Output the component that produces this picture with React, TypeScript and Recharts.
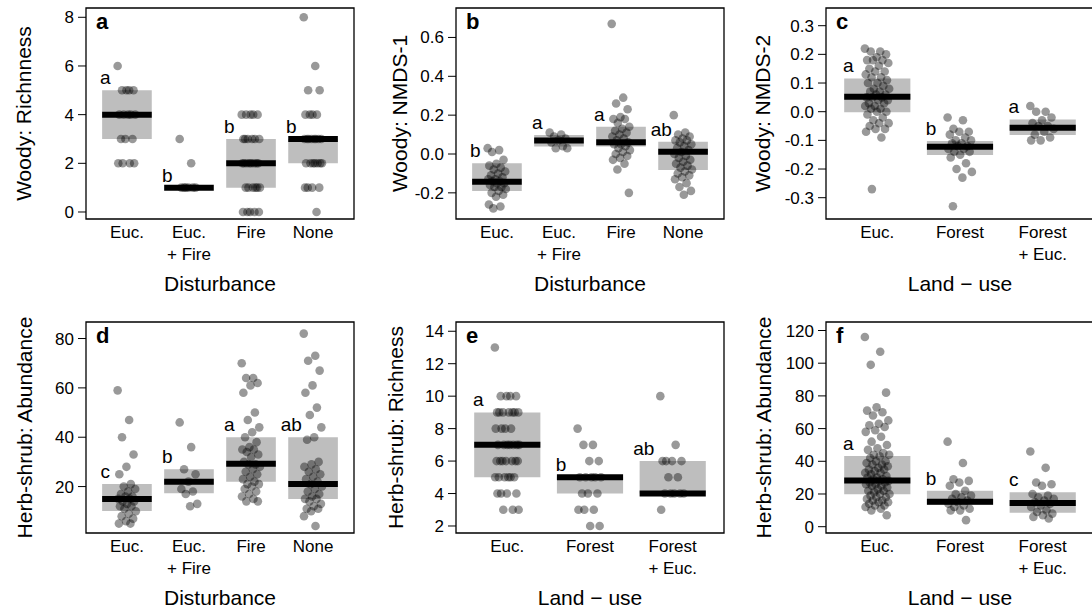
import React from "react";
import {
  ComposedChart,
  Scatter,
  XAxis,
  YAxis,
  ReferenceArea,
  ReferenceLine,
  ReferenceDot,
} from "recharts";

// ---- data ----

const disturbanceCats = ["Euc.", "Euc.\n+ Fire", "Fire", "None"];
const landUseCats = ["Euc.", "Forest", "Forest\n+ Euc."];

// a: Woody richness by disturbance
const aEuc = [6, 5, 5, 5, 5, 4, 4, 4, 4, 4, 3, 3, 3, 2, 2, 2, 2];
const aEucFire = [3, 2, 1, 1, 1, 1, 1, 1];
const aFire = [4, 4, 4, 4, 4, 3, 3, 3, 3, 3, 3, 2, 2, 2, 2, 2, 2, 2, 2, 1, 1, 1, 1, 1, 1, 0, 0, 0, 0, 0];
const aNone = [8, 6, 5, 5, 4, 4, 4, 4, 3, 3, 3, 3, 3, 3, 3, 3, 2, 2, 2, 2, 2, 2, 2, 1, 1, 1, 1, 0];
const aQ1 = [3, 1, 1, 2];
const aMed = [4, 1, 2, 3];
const aQ3 = [5, 1, 3, 3];
const aLetters = ["a", "b", "b", "b"];
const aTicks = [0, 2, 4, 6, 8];

// b: Woody NMDS-1 by disturbance
const bEuc = [0.03, 0.02, 0.01, -0.03, -0.05, -0.06, -0.07, -0.08, -0.09, -0.1, -0.11, -0.12, -0.13, -0.13, -0.14, -0.14, -0.15, -0.15, -0.16, -0.17, -0.17, -0.18, -0.19, -0.2, -0.21, -0.22, -0.26, -0.27, -0.28];
const bEucFire = [0.11, 0.1, 0.09, 0.08, 0.07, 0.06, 0.04, 0.03, 0.03];
const bFire = [0.67, 0.29, 0.26, 0.23, 0.19, 0.18, 0.18, 0.16, 0.14, 0.13, 0.12, 0.11, 0.1, 0.09, 0.08, 0.07, 0.06, 0.05, 0.05, 0.04, 0.03, 0.02, 0.01, 0.0, -0.01, -0.02, -0.03, -0.05, -0.08, -0.2];
const bNone = [0.2, 0.11, 0.1, 0.09, 0.08, 0.07, 0.07, 0.06, 0.05, 0.04, 0.03, 0.02, 0.01, 0.0, -0.01, -0.02, -0.03, -0.04, -0.05, -0.06, -0.07, -0.08, -0.09, -0.1, -0.11, -0.12, -0.13, -0.15, -0.17, -0.19, -0.21];
const bQ1 = [-0.19, 0.038, 0.038, -0.082];
const bMed = [-0.143, 0.07, 0.06, 0.012];
const bQ3 = [-0.048, 0.098, 0.14, 0.063];
const bLetters = ["b", "a", "a", "ab"];
const bTicks = [-0.2, 0, 0.2, 0.4, 0.6];

// c: Woody NMDS-2 by land-use
const cEuc = [0.22, 0.21, 0.21, 0.2, 0.19, 0.18, 0.18, 0.18, 0.17, 0.16, 0.15, 0.14, 0.14, 0.13, 0.12, 0.12, 0.11, 0.1, 0.1, 0.09, 0.08, 0.08, 0.07, 0.07, 0.06, 0.06, 0.05, 0.05, 0.05, 0.04, 0.04, 0.03, 0.03, 0.02, 0.02, 0.01, 0.01, 0.0, 0.0, -0.01, -0.02, -0.03, -0.04, -0.04, -0.05, -0.06, -0.06, -0.07, -0.09, -0.27];
const cForest = [-0.02, -0.03, -0.06, -0.07, -0.07, -0.08, -0.09, -0.1, -0.1, -0.11, -0.11, -0.12, -0.12, -0.13, -0.13, -0.14, -0.14, -0.15, -0.16, -0.18, -0.2, -0.21, -0.23, -0.33];
const cForestEuc = [0.02, 0.0, 0.0, -0.02, -0.03, -0.04, -0.05, -0.05, -0.06, -0.07, -0.08, -0.09, -0.1, -0.1];
const cQ1 = [-0.002, -0.151, -0.081];
const cMed = [0.052, -0.122, -0.056];
const cQ3 = [0.116, -0.102, -0.027];
const cLetters = ["a", "b", "a"];
const cTicks = [-0.3, -0.2, -0.1, 0, 0.1, 0.2, 0.3];

// d: Herb-shrub abundance by disturbance
const dEuc = [59, 47, 40, 33, 28, 25, 21, 20, 19, 18, 17, 16, 16, 15, 15, 14, 14, 13, 12, 12, 11, 10, 9, 8, 7, 6, 5, 5];
const dEucFire = [46, 36, 27, 25, 22, 19, 18, 17, 13, 12];
const dFire = [70, 64, 64, 62, 61, 58, 50, 47, 44, 42, 40, 38, 36, 35, 35, 34, 33, 32, 30, 29, 29, 28, 27, 26, 25, 24, 23, 22, 21, 21, 20, 19, 18, 17, 16, 15, 14, 14];
const dNone = [82, 73, 71, 67, 61, 58, 52, 49, 44, 40, 39, 30, 29, 28, 27, 26, 25, 24, 23, 22, 21, 20, 19, 18, 17, 16, 15, 15, 14, 13, 12, 11, 11, 10, 8, 4];
const dQ1 = [10.1, 17.3, 22, 15];
const dMed = [15, 22, 29.2, 21];
const dQ3 = [21, 27, 40, 40];
const dLetters = ["c", "b", "a", "ab"];
const dTicks = [20, 40, 60, 80];

// e: Herb-shrub richness by land-use
const eEuc = [13, 10, 10, 10, 10, 9, 9, 9, 9, 9, 9, 9, 8, 8, 8, 8, 7, 7, 7, 7, 7, 7, 7, 6, 6, 6, 6, 6, 6, 6, 5, 5, 5, 5, 5, 5, 4, 4, 4, 4, 3, 3, 3];
const eForest = [8, 7, 7, 6, 6, 5, 5, 5, 5, 5, 4, 4, 4, 3, 3, 3, 2, 2];
const eForestEuc = [10, 7, 6, 6, 6, 6, 5, 5, 4, 4, 4, 4, 4, 3];
const eQ1 = [5, 4, 4];
const eMed = [7, 5, 4];
const eQ3 = [9, 5, 6];
const eLetters = ["a", "b", "ab"];
const eTicks = [2, 4, 6, 8, 10, 12, 14];

// f: Herb-shrub abundance by land-use
const fEuc = [116, 107, 99, 82, 73, 71, 70, 68, 65, 63, 62, 61, 59, 58, 55, 52, 50, 48, 47, 45, 44, 44, 43, 42, 40, 40, 39, 38, 38, 37, 36, 35, 35, 34, 33, 33, 32, 31, 30, 30, 29, 29, 28, 28, 27, 27, 26, 26, 25, 25, 24, 23, 22, 22, 21, 20, 20, 19, 18, 18, 17, 16, 16, 15, 15, 14, 13, 13, 12, 11, 10, 7];
const fForest = [52, 39, 29, 28, 27, 25, 22, 20, 19, 18, 17, 16, 15, 14, 13, 12, 11, 10, 10, 4];
const fForestEuc = [46, 36, 27, 26, 25, 20, 19, 18, 17, 16, 15, 14, 13, 12, 10, 9, 8, 7, 6, 5];
const fQ1 = [19.9, 13.3, 8.6];
const fMed = [28.2, 15.2, 14.5];
const fQ3 = [43.3, 22, 21];
const fLetters = ["a", "b", "c"];
const fTicks = [0, 20, 40, 60, 80, 100, 120];

// ---- layout ----

const FONT = '"Liberation Sans", Arial, Helvetica, sans-serif';
const CHART_W = 364;
const CHART_H = 296;
const MARGIN = { top: 8, right: 10, bottom: 0, left: 26 };

const panels = [
  { tag: "a", left: 0, top: 0, cats: disturbanceCats, groups: [aEuc, aEucFire, aFire, aNone], q1: aQ1, med: aMed, q3: aQ3, letters: aLetters, ticks: aTicks, yDomain: [-0.288, 8.382], digits: 0, yTitle: "Woody: Richnness", xTitle: "Disturbance", titleOff: 63 },
  { tag: "b", left: 370, top: 0, cats: disturbanceCats, groups: [bEuc, bEucFire, bFire, bNone], q1: bQ1, med: bMed, q3: bQ3, letters: bLetters, ticks: bTicks, yDomain: [-0.3346, 0.7516], digits: 1, yTitle: "Woody: NMDS-1", xTitle: "Disturbance", titleOff: 57 },
  { tag: "c", left: 740, top: 0, cats: landUseCats, groups: [cEuc, cForest, cForestEuc], q1: cQ1, med: cMed, q3: cQ3, letters: cLetters, ticks: cTicks, yDomain: [-0.3743, 0.3617], digits: 1, yTitle: "Woody: NMDS-2", xTitle: "Land \u2212 use", titleOff: 64 },
  { tag: "d", left: 0, top: 314, cats: disturbanceCats, groups: [dEuc, dEucFire, dFire, dNone], q1: dQ1, med: dMed, q3: dQ3, letters: dLetters, ticks: dTicks, yDomain: [1.18, 86.7], digits: 0, yTitle: "Herb-shrub: Abundance", xTitle: "Disturbance", titleOff: 62 },
  { tag: "e", left: 370, top: 314, cats: landUseCats, groups: [eEuc, eForest, eForestEuc], q1: eQ1, med: eMed, q3: eQ3, letters: eLetters, ticks: eTicks, yDomain: [1.568, 14.57], digits: 0, yTitle: "Herb-shrub: Richness", xTitle: "Land \u2212 use", titleOff: 61 },
  { tag: "f", left: 740, top: 314, cats: landUseCats, groups: [fEuc, fForest, fForestEuc], q1: fQ1, med: fMed, q3: fQ3, letters: fLetters, ticks: fTicks, yDomain: [-3.86, 125.2], digits: 0, yTitle: "Herb-shrub: Abundance", xTitle: "Land \u2212 use", titleOff: 63 },
];

// horizontal spread of the dots, like R's jitter() but repeatable
const jitter = (k: number) => (((k * 0.618034) % 1) - 0.5) * 0.3;

const Dot = (p: any) => <circle cx={p.cx} cy={p.cy} r={4.3} fill="#000" fillOpacity={0.4} />;

function CatTick(props: any) {
  const { x, y, payload, cats } = props;
  const lines: string[] = (cats[payload.value - 1] || "").split("\n");
  return (
    <text x={x} y={y} textAnchor="middle" fontSize={17} fill="#000" fontFamily={FONT}>
      {lines.map((l, i) => (
        <tspan key={i} x={x} dy={i === 0 ? 19 : 22}>
          {l}
        </tspan>
      ))}
    </text>
  );
}

function Panel({ cfg }: { cfg: any }) {
  const n = cfg.cats.length;
  const xDomain = [0.5 - 0.04 * n, n + 0.5 + 0.04 * n];
  const points = cfg.groups.flatMap((vals: number[], gi: number) =>
    vals.map((v, k) => ({ x: gi + 1 + jitter(k), y: v }))
  );
  const xTicks = cfg.cats.map((_: string, i: number) => i + 1);

  return (
    <div style={{ position: "absolute", left: cfg.left, top: cfg.top }}>
      <ComposedChart width={CHART_W} height={CHART_H} margin={MARGIN}>
        <XAxis
          type="number"
          dataKey="x"
          domain={xDomain}
          ticks={xTicks}
          interval={0}
          allowDataOverflow
          axisLine={false}
          tickLine={false}
          tickSize={0}
          tickMargin={0}
          height={77}
          tick={<CatTick cats={cfg.cats} />}
          label={{
            content: (lp: any) => {
              const vb = lp.viewBox;
              return (
                <text x={vb.x + vb.width / 2} y={vb.y + 72} textAnchor="middle" fontSize={21} fill="#000" fontFamily={FONT}>
                  {cfg.xTitle}
                </text>
              );
            },
          }}
        />
        <YAxis
          type="number"
          dataKey="y"
          domain={cfg.yDomain}
          ticks={cfg.ticks}
          interval={0}
          allowDataOverflow
          width={60}
          axisLine={false}
          tickSize={8}
          tickMargin={4}
          tickLine={{ stroke: "#000" }}
          tick={{ fontSize: 17, fill: "#000", fontFamily: FONT }}
          tickFormatter={(v: number) => v.toFixed(cfg.digits)}
          label={{
            content: (lp: any) => {
              const vb = lp.viewBox;
              const cx = vb.x + vb.width - cfg.titleOff;
              const cy = vb.y + vb.height / 2;
              return (
                <text x={cx} y={cy} transform={`rotate(-90, ${cx}, ${cy})`} textAnchor="middle" dominantBaseline="central" fontSize={21} fill="#000" fontFamily={FONT}>
                  {cfg.yTitle}
                </text>
              );
            },
          }}
        />
        {cfg.q1.map((q: number, i: number) => (
          <ReferenceArea key={`box${i}`} x1={i + 0.6} x2={i + 1.4} y1={q} y2={cfg.q3[i]} fill="#bebebe" fillOpacity={1} stroke="none" ifOverflow="visible" />
        ))}
        {cfg.med.map((m: number, i: number) => (
          <ReferenceLine key={`med${i}`} segment={[{ x: i + 0.6, y: m }, { x: i + 1.4, y: m }]} stroke="#000" strokeWidth={6} ifOverflow="visible" />
        ))}
        <Scatter data={points} dataKey="y" shape={Dot} isAnimationActive={false} />
        <ReferenceArea x1={xDomain[0]} x2={xDomain[1]} y1={cfg.yDomain[0]} y2={cfg.yDomain[1]} fill="none" stroke="#000" strokeWidth={1.3} ifOverflow="visible" />
        {cfg.letters.map((l: string, i: number) => (
          <ReferenceDot
            key={`let${i}`}
            x={i + 1 - 0.35}
            y={cfg.q3[i]}
            r={0}
            ifOverflow="visible"
            shape={(p: any) => (
              <text x={p.cx} y={p.cy - 6} textAnchor="middle" fontSize={19} fill="#000" fontFamily={FONT}>
                {l}
              </text>
            )}
          />
        ))}
        <ReferenceDot
          x={xDomain[0]}
          y={cfg.yDomain[1]}
          r={0}
          ifOverflow="visible"
          shape={(p: any) => (
            <text x={p.cx + 10} y={p.cy + 21} fontSize={22} fontWeight="bold" fill="#000" fontFamily={FONT}>
              {cfg.tag}
            </text>
          )}
        />
      </ComposedChart>
    </div>
  );
}

export default function App() {
  return (
    <div
      style={{
        position: "absolute",
        left: 0,
        top: 0,
        width: 1092,
        height: 610,
        overflow: "hidden",
        background: "#fff",
        fontFamily: FONT,
      }}
    >
      {panels.map((cfg) => (
        <Panel key={cfg.tag} cfg={cfg} />
      ))}
    </div>
  );
}
